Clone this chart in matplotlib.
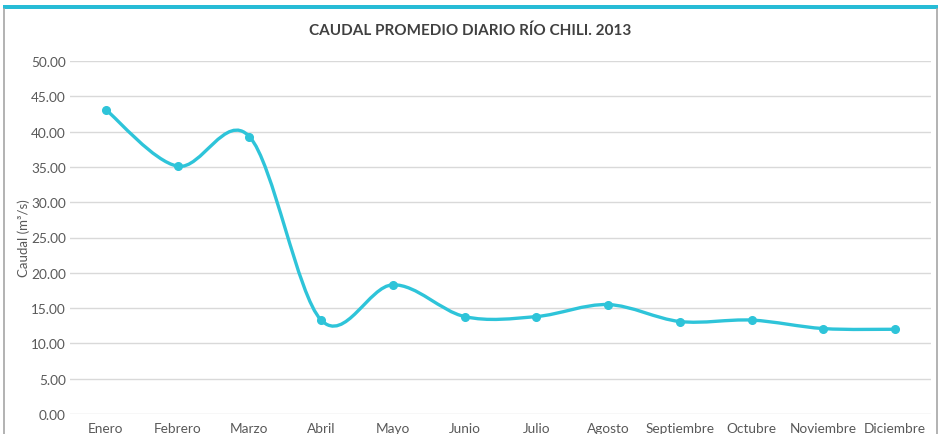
import numpy as np
import matplotlib
matplotlib.use("Agg")
import matplotlib.pyplot as plt
from matplotlib.path import Path
from matplotlib.patches import PathPatch
from matplotlib.lines import Line2D
from matplotlib.patches import Rectangle

plt.rcParams['font.family'] = ['Lato', 'DejaVu Sans']

months = ["Enero", "Febrero", "Marzo", "Abril", "Mayo", "Junio", "Julio",
          "Agosto", "Septiembre", "Octubre", "Noviembre", "Diciembre"]
caudal = [43.1, 35.1, 39.3, 13.3, 18.3, 13.8, 13.8, 15.5, 13.1, 13.3, 12.1, 12.0]
yticks = [0, 5, 10, 15, 20, 25, 30, 35, 40, 45, 50]

LINE = "#2ec4d9"
GRID = "#d9d9d9"
TEXT = "#595959"


def smoothPath(xs, ys):
    '''excel-like smoothed line: cubic bezier through the points'''
    n = len(xs)
    verts = [(xs[0], ys[0])]
    codes = [Path.MOVETO]
    for i in range(n - 1):
        x0, y0 = (xs[i - 1], ys[i - 1]) if i > 0 else (xs[i], ys[i])
        x1, y1 = xs[i], ys[i]
        x2, y2 = xs[i + 1], ys[i + 1]
        x3, y3 = (xs[i + 2], ys[i + 2]) if i + 2 < n else (x2, y2)
        c1 = (x1 + (x2 - x0) / 6, y1 + (y2 - y0) / 6)
        c2 = (x2 - (x3 - x1) / 6, y2 - (y3 - y1) / 6)
        verts += [c1, c2, (x2, y2)]
        codes += [Path.CURVE4] * 3
    return Path(verts, codes)


fig = plt.figure(figsize=(9.4, 4.35), dpi=100)
ax = fig.add_axes([70 / 940, 1 - 415 / 435, 861 / 940, 353 / 435])

x = np.arange(len(months))
ax.add_patch(PathPatch(smoothPath(x, caudal), fill=False, edgecolor=LINE,
                       lw=2.4, zorder=3, capstyle='round'))
ax.plot(x, caudal, 'o', color=LINE, ms=5.5, zorder=4)

ax.set_xlim(-0.5, len(months) - 0.5)
ax.set_ylim(0, 50)
ax.set_yticks(yticks)
ax.set_yticklabels(["%.2f" % v for v in yticks])
ax.set_xticks(x)
ax.set_xticklabels(months)
ax.yaxis.grid(True, color=GRID, lw=1)
ax.set_axisbelow(True)
for s in ax.spines.values():
    s.set_visible(False)
ax.tick_params(axis='both', length=0, colors=TEXT, labelsize=9.8)
ax.tick_params(axis='y', pad=3)
ax.tick_params(axis='x', pad=6)
ax.set_ylabel("Caudal (m³/s)", color=TEXT, fontsize=9.5, labelpad=1)

fig.text(0.5, 1 - 31 / 435, "CAUDAL PROMEDIO DIARIO RÍO CHILI. 2013",
         ha='center', va='center', fontsize=11, fontweight='bold', color="#404040")

# frame: cyan top bar and gray side borders
fig.add_artist(Rectangle((3 / 940, 1 - 10 / 435), 935 / 940, 4 / 435,
                         transform=fig.transFigure, color="#27bcd6", lw=0))
fig.add_artist(Line2D([4 / 940, 4 / 940], [0, 1 - 10 / 435],
                      transform=fig.transFigure, color="#a6a6a6", lw=1.2))
fig.add_artist(Line2D([937 / 940, 937 / 940], [0, 1 - 10 / 435],
                      transform=fig.transFigure, color="#a6a6a6", lw=1.2))

fig.savefig("out.png", dpi=100)
